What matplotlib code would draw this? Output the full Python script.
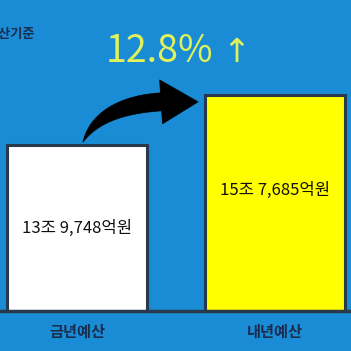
import matplotlib
matplotlib.use("Agg")
import numpy as np
import matplotlib.pyplot as plt
from matplotlib.patches import Polygon
from matplotlib.transforms import IdentityTransform

plt.rcParams['font.family'] = ['Noto Sans CJK KR', 'DejaVu Sans']

categories = ["금년예산", "내년예산"]
values = [13.9748, 15.7685]          # 조원
value_labels = ["13조 9,748억원", "15조 7,685억원"]
growth_label = "12.8%"
note_label = "예산기준"

bg = "#1a8cd6"
edge = "#27394a"
navy = "#1b2d4d"
bar_colors = ["#ffffff", "#ffff00"]
label_drop = [2.98, 3.41]   # label distance below bar top

fig = plt.figure(figsize=(3.51, 3.51), dpi=100)
fig.patch.set_facecolor(bg)
ax = fig.add_axes([0, 40/351, 1, 311/351])
ax.set_facecolor(bg)

x = list(range(len(categories)))
width = 0.707
ax.bar(x, values, width=width, color=bar_colors, edgecolor=edge, linewidth=2.2, zorder=3)
ax.set_xlim(-0.389, 1.384)
ax.set_ylim(8.02, 19.17)

for s in ["top", "left", "right"]:
    ax.spines[s].set_visible(False)
ax.spines["bottom"].set_color(edge)
ax.spines["bottom"].set_linewidth(2.5)
ax.spines["bottom"].set_zorder(4)
ax.set_yticks([])
ax.set_xticks(x)
ax.set_xticklabels(categories, fontsize=11, fontweight='bold', color=navy)
ax.tick_params(axis='x', length=0, pad=9.5)

# value labels inside bars
for xi, v, lab, d in zip(x, values, value_labels, label_drop):
    ax.text(xi, v - d, lab, ha='center', va='center',
            fontsize=12, color='#111111', zorder=5)

# curved tapered arrow (thin at start, thick near head), built in pixel space
S = ax.transData.transform((x[0] + 0.03, values[0] + 0.1))
Tip = ax.transData.transform((x[1] - width / 2 - 0.035, values[1] - 0.25))
head_len, head_half, body_w = 37.0, 22.0, 18.0
B = np.array([Tip[0] - head_len, Tip[1]])
C = np.array([S[0] + 0.22 * (B[0] - S[0]), S[1] + 0.9 * (B[1] - S[1])])
t = np.linspace(0, 1, 60)[:, None]
P = (1 - t) ** 2 * S + 2 * (1 - t) * t * C + t ** 2 * B
D = 2 * (1 - t) * (C - S) + 2 * t * (B - C)
D = D / np.linalg.norm(D, axis=1, keepdims=True)
N = np.column_stack([-D[:, 1], D[:, 0]])
w = body_w * (1 - (1 - t) ** 2)
left = P + N * w / 2
right = P - N * w / 2
nB = N[-1]
poly = np.vstack([left, B + nB * head_half, Tip, B - nB * head_half, right[::-1]])
arrow = Polygon(poly, closed=True, facecolor='black', edgecolor='black',
                linewidth=0.5, transform=IdentityTransform(), clip_on=False, zorder=6)
ax.add_patch(arrow)

# growth text
fig.text(160/351, 1 - 51/351, growth_label, ha='center', va='center',
         fontsize=27, fontweight='medium', color='#e0f25a')
fig.text(236/351, 1 - 52/351, "↑", ha='center', va='center',
         fontsize=24, color='#e0f25a', family=['DejaVu Sans'])

fig.text(35/351, 1 - 34/351, note_label, ha='right', va='center',
         fontsize=9.5, fontweight='bold', color=navy)

fig.savefig("out.png", dpi=100, facecolor=bg)
